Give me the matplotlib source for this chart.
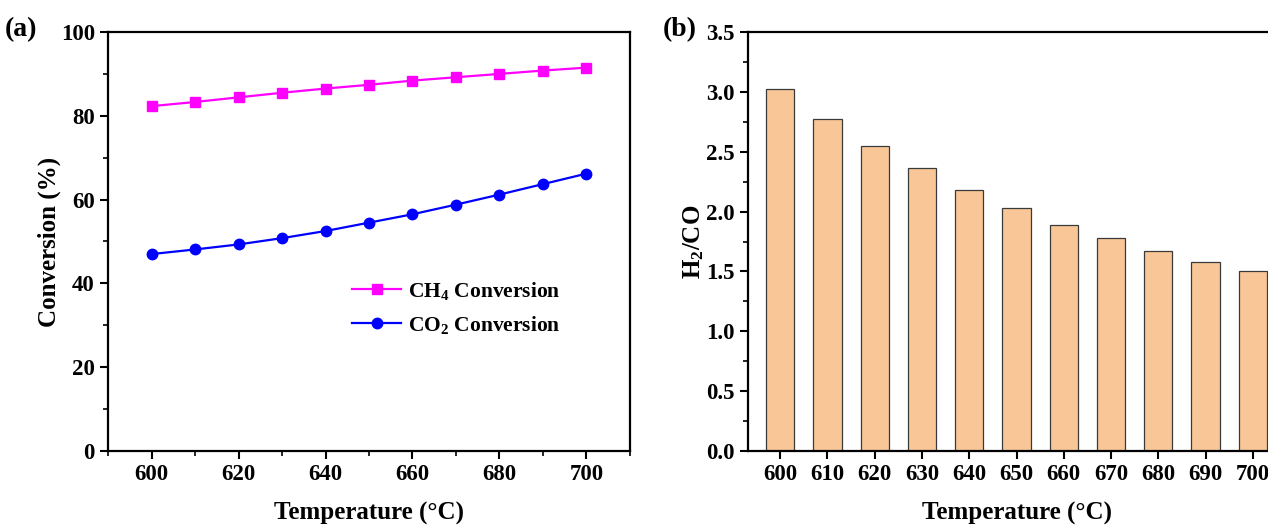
import numpy as np
import matplotlib
matplotlib.use("Agg")
import matplotlib.pyplot as plt
from matplotlib.ticker import MultipleLocator

# podaci
temperature = [600, 610, 620, 630, 640, 650, 660, 670, 680, 690, 700]
ch4_conversion = [82.3, 83.3, 84.4, 85.5, 86.5, 87.4, 88.4, 89.2, 90.0, 90.8, 91.5]
co2_conversion = [47.0, 48.1, 49.3, 50.8, 52.5, 54.5, 56.5, 58.8, 61.2, 63.7, 66.2]
h2_co_ratio = [3.02, 2.77, 2.55, 2.36, 2.18, 2.03, 1.89, 1.78, 1.67, 1.58, 1.50]

plt.rcParams["font.family"] = ["Liberation Serif", "DejaVu Serif"]
plt.rcParams["font.weight"] = "bold"
plt.rcParams["axes.labelweight"] = "bold"
plt.rcParams["mathtext.fontset"] = "custom"
plt.rcParams["mathtext.rm"] = "Liberation Serif:bold"
plt.rcParams["mathtext.it"] = "Liberation Serif:bold"
plt.rcParams["mathtext.bf"] = "Liberation Serif:bold"

fig = plt.figure(figsize=(12.68, 5.25), dpi=100)

W, H = 1268, 525
ax1 = fig.add_axes([108 / W, 1 - 451 / H, (630 - 108) / W, (451 - 32) / H])
ax2 = fig.add_axes([748 / W, 1 - 451 / H, (1285 - 748) / W, (451 - 32) / H])

# (a) konverzija
ax1.plot(temperature, ch4_conversion, color="#FF00FF", marker="s", markersize=7,
         linewidth=1.6, label="CH$_4$ Conversion")
ax1.plot(temperature, co2_conversion, color="#0000FF", marker="o", markersize=7.5,
         linewidth=1.6, label="CO$_2$ Conversion")
ax1.set_xlim(590, 710)
ax1.set_ylim(0, 100)
ax1.xaxis.set_major_locator(MultipleLocator(20))
ax1.xaxis.set_minor_locator(MultipleLocator(10))
ax1.yaxis.set_major_locator(MultipleLocator(20))
ax1.yaxis.set_minor_locator(MultipleLocator(10))
ax1.set_xlabel("Temperature (°C)", fontsize=18, labelpad=12)
ax1.set_ylabel("Conversion (%)", fontsize=18, labelpad=0)
leg = ax1.legend(loc="upper left", bbox_to_anchor=(0.43, 0.455), frameon=False,
                 fontsize=15.5, handlelength=2.3, labelspacing=0.55, handletextpad=0.3)

# (b) H2/CO
x = np.arange(len(temperature))
ax2.bar(x, h2_co_ratio, width=0.6, color="#F9C797", edgecolor="#3a3a3a", linewidth=0.9)
ax2.set_xlim(-0.68, 10.68)
ax2.set_ylim(0, 3.5)
ax2.set_xticks(x)
ax2.set_xticklabels([str(t) for t in temperature])
ax2.yaxis.set_major_locator(MultipleLocator(0.5))
ax2.yaxis.set_minor_locator(MultipleLocator(0.25))
ax2.set_xlabel("Temperature (°C)", fontsize=18, labelpad=12)
ax2.set_ylabel("H$_2$/CO", fontsize=18, labelpad=0)

for ax in (ax1, ax2):
    for s in ax.spines.values():
        s.set_linewidth(1.6)
    ax.tick_params(which="major", direction="out", length=6, width=1.5,
                   labelsize=16.5, top=False, right=False)
    ax.tick_params(which="minor", direction="out", length=3.5, width=1.2,
                   top=False, right=False)
    for lbl in ax.get_xticklabels() + ax.get_yticklabels():
        lbl.set_fontweight("bold")
ax2.tick_params(axis="x", which="minor", bottom=False)

fig.text(5 / W, 1 - 30 / H, "(a)", fontsize=20, fontweight="bold", va="center")
fig.text(663 / W, 1 - 30 / H, "(b)", fontsize=20, fontweight="bold", va="center")

fig.savefig("out.png", dpi=100)
